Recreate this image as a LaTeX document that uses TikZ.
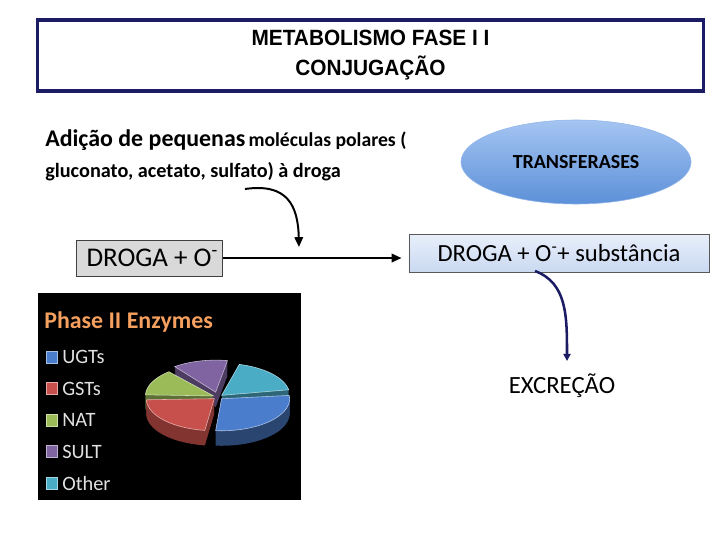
\documentclass[tikz,border=0pt]{standalone}
\usepackage{fontspec}
\setmainfont{Carlito}
\newfontfamily\arialfont{Liberation Sans}
\usepackage{tikz}
\usetikzlibrary{positioning,arrows.meta,shapes.geometric}
\definecolor{navyline}{RGB}{28,28,100}
\definecolor{boxgray}{RGB}{217,217,217}
\definecolor{boxtop}{RGB}{232,239,250}
\definecolor{boxblue}{RGB}{202,217,241}
\definecolor{elltop}{RGB}{165,197,242}
\definecolor{ellbot}{RGB}{92,144,216}
\definecolor{enzorange}{RGB}{245,160,95}
\definecolor{ugtblue}{RGB}{74,126,204}
\definecolor{gstred}{RGB}{200,80,76}
\definecolor{natgreen}{RGB}{155,187,89}
\definecolor{sultpurple}{RGB}{128,100,162}
\definecolor{otherteal}{RGB}{75,172,198}

% one exploded slice of the 3D pie: start angle, end angle, top colour, side colour, explode
\newcommand{\pieslice}[5]{%
  \pgfmathsetmacro{\pmid}{(#1+#2)/2}
  \pgfmathsetmacro{\px}{218+#5*cos(\pmid)}
  \pgfmathsetmacro{\py}{397-#5*0.5*sin(\pmid)}
  \foreach \d in {15,14,...,1}{
    \fill[#4] (\px,\py+\d) -- plot[domain=#1:#2, samples=40] ({\px+68*cos(\x)},{\py+\d-32*sin(\x)}) -- cycle;
  }
  \fill[#3, draw=white!55!#3, line width=0.4pt] (\px,\py) -- plot[domain=#1:#2, samples=40] ({\px+68*cos(\x)},{\py-32*sin(\x)}) -- cycle;
}

\begin{document}
\begin{tikzpicture}[x=0.025cm, y=-0.025cm,
  titlebox/.style={draw=navyline, line width=2.2pt, minimum width=16.625cm, minimum height=1.775cm,
    align=center, font=\arialfont\bfseries\fontsize{14.8}{21.3}\selectfont},
  txt/.style={anchor=base west, inner sep=0pt, font=\bfseries},
  drogabox/.style={draw=black!75, fill=boxgray, line width=0.6pt, minimum width=3.625cm,
    minimum height=0.9cm, font=\fontsize{19.2}{21}\selectfont},
  subsbox/.style={draw=black!65, top color=boxtop, bottom color=boxblue, line width=0.6pt,
    minimum width=7.5cm, minimum height=0.95cm, font=\fontsize{17.5}{20}\selectfont},
  enzyme/.style={ellipse, draw=elltop!70!ellbot, top color=elltop, bottom color=ellbot,
    minimum width=5.75cm, minimum height=2.1cm, font=\bfseries\fontsize{14.2}{16}\selectfont},
  flowarrow/.style={line width=1.4pt, -{Triangle[length=7pt,width=6pt]}},
  navyarrow/.style={draw=navyline, line width=1.8pt, -{Triangle[length=5pt,width=5pt]}},
  legtxt/.style={anchor=west, inner sep=0pt, text=black!12, font=\fontsize{14.5}{16}\selectfont},
]
\useasboundingbox (0,0) rectangle (720,540);

% title
\node[titlebox] (title) at (370.5,55.5) {\scalebox{1}[1.06]{METABOLISMO FASE I I}\\\scalebox{1}[1.06]{CONJUGAÇÃO}};

% added groups
\node[txt] (addtext1) at (45,146) {{\fontsize{17}{19}\selectfont Adição de pequenas} {\fontsize{14}{16}\selectfont moléculas polares (}};
\node[txt] (addtext2) at (45,177) {\fontsize{14.4}{16}\selectfont gluconato, acetato, sulfato) à droga};

% reaction
\node[drogabox] (droga) at (149.5,258) {\hspace{4pt}DROGA + O\textsuperscript{-}};
\node[enzyme] (transf) at (576,162) {TRANSFERASES};
\node[subsbox] (subst) at (559,253) {DROGA + O\textsuperscript{-}+ substância};
\node[font=\fontsize{17.6}{19}\selectfont] (excr) at (562,386) {EXCREÇÃO};

\coordinate (addstart) at (245,189);
\coordinate (addend) at (299,247);
\coordinate (excstart) at (535,271);
\coordinate (excend) at (567,361);

\draw[flowarrow, shorten >=5pt] (droga.east) -- (droga.east -| subst.west);
\draw[flowarrow] (addstart) .. controls +(42,-6) and +(-1,-42) .. (addend);
\draw[navyarrow] (excstart) .. controls +(32,12) and +(0,-45) .. (excend);

% enzyme chart
\fill[black] (38,293) rectangle (301,500);
\node[anchor=west, inner sep=0pt, text=enzorange, font=\bfseries\fontsize{17}{19}\selectfont] (phasetitle) at (44,322) {Phase II Enzymes};
\foreach \c/\t [count=\i] in {ugtblue/UGTs, gstred/GSTs, natgreen/NAT, sultpurple/SULT, otherteal/Other}{
  \fill[\c, draw=white!50!\c, line width=0.4pt] (46,357+31.5*\i-31.5-6) rectangle (57,357+31.5*\i-31.5+6);
  \node[legtxt] (leg\i) at (62,357+31.5*\i-31.5) {\t};
}
\pieslice{10}{75}{otherteal}{otherteal!60!black}{5}
\pieslice{80}{127}{sultpurple}{sultpurple!60!black}{10}
\pieslice{131}{178}{natgreen}{natgreen!60!black}{5}
\pieslice{182}{262}{gstred}{gstred!65!black}{5}
\pieslice{-95}{6}{ugtblue}{ugtblue!55!black}{5}
\end{tikzpicture}
\end{document}
